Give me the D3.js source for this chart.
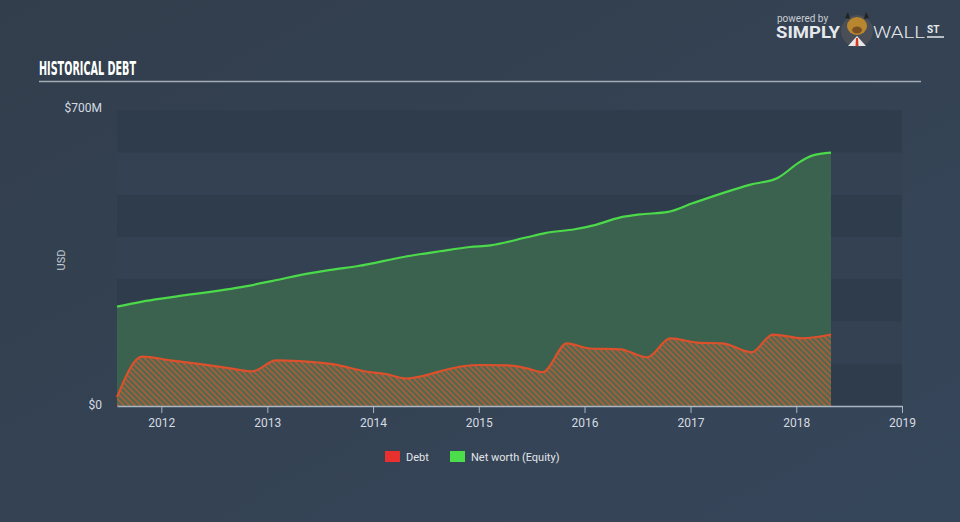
<!DOCTYPE html>
<html>
<head>
<meta charset="utf-8">
<script src="https://cdn.jsdelivr.net/npm/d3@7/dist/d3.min.js"></script>
<style>
  html, body { margin: 0; padding: 0; width: 960px; height: 522px; overflow: hidden; background: #344150; }
  svg { display: block; }
</style>
</head>
<body>
<svg id="chart" width="960" height="522"></svg>
<script>
// ---- Data (values in $M) ----
const equityDates = ["2011-08-01","2011-10-27","2012-02-01","2012-10-17","2013-01-20","2013-05-20","2013-08-07","2013-11-10","2014-04-20","2014-08-20","2014-12-01","2015-02-10","2015-06-16","2015-08-18","2015-11-28","2016-02-01","2016-05-04","2016-07-10","2016-10-15","2017-01-10","2017-07-24","2017-10-30","2018-01-15","2018-02-25","2018-05-01"];
const equityValues = [235, 247, 257, 283, 296, 313, 322, 331, 353, 366, 376, 380, 399, 409, 418, 427, 446, 453, 459, 480, 523, 540, 578, 592, 599];

const debtDates = ["2011-08-01","2011-10-27","2012-02-01","2012-05-15","2012-08-26","2012-11-10","2013-01-31","2013-04-23","2013-08-14","2013-12-12","2014-02-18","2014-04-26","2014-06-21","2014-08-20","2014-11-07","2015-01-05","2015-04-08","2015-06-16","2015-08-10","2015-11-01","2016-01-20","2016-05-04","2016-08-04","2016-10-23","2017-01-24","2017-04-22","2017-07-31","2017-10-12","2018-01-23","2018-05-01"];
const debtValues = [21, 117, 108, 99, 89, 82, 108, 106, 99, 81, 75, 65, 71, 82, 94, 97, 96, 89, 80, 148, 136, 134, 115, 160, 150, 148, 127, 169, 160, 169];

const xTickYears = [2012, 2013, 2014, 2015, 2016, 2017, 2018, 2019];
const yTickValues = [0, 700];
const legendItems = ["Debt", "Net worth (Equity)"];

// ---- Setup ----
const svg = d3.select("#chart");
const W = 960, H = 522;
const plot = { left: 117, right: 902, top: 110, bottom: 406 };
const parse = d3.timeParse("%Y-%m-%d");

const equity = equityDates.map((d, i) => ({ date: parse(d), value: equityValues[i] }));
const debt = debtDates.map((d, i) => ({ date: parse(d), value: debtValues[i] }));

const x = d3.scaleTime()
  .domain([parse("2011-08-01"), new Date(2019, 0, 1)])
  .range([plot.left, plot.right]);
const y = d3.scaleLinear().domain([0, 700]).range([plot.bottom, plot.top]);

const defs = svg.append("defs");
const bg = defs.append("linearGradient").attr("id", "bg").attr("x1", 0).attr("y1", 0).attr("x2", 1).attr("y2", 1);
bg.append("stop").attr("offset", "0%").attr("stop-color", "#323e4c");
bg.append("stop").attr("offset", "100%").attr("stop-color", "#36465a");

const pat = defs.append("pattern").attr("id", "hatch").attr("patternUnits", "userSpaceOnUse")
  .attr("width", 4).attr("height", 4).attr("patternTransform", "rotate(-45)");
pat.append("rect").attr("width", 4).attr("height", 4).attr("fill", "#4d6a50");
pat.append("rect").attr("width", 1.7).attr("height", 4).attr("fill", "#b05c38");

svg.append("rect").attr("width", W).attr("height", H).attr("fill", "url(#bg)");

// ---- Bands ----
const bandStep = 100;
const bands = d3.range(0, 700, bandStep);
svg.append("g").selectAll("rect").data(bands).join("rect")
  .attr("x", plot.left)
  .attr("width", plot.right - plot.left)
  .attr("y", d => y(d + bandStep))
  .attr("height", d => y(d) - y(d + bandStep))
  .attr("fill", (d, i) => (i % 2 === 0) ? "#2f3c4c" : "#334152");

// ---- Areas ----
const curve = d3.curveMonotoneX;
const areaGen = d3.area().x(d => x(d.date)).y0(y(0)).y1(d => y(d.value)).curve(curve);
const lineGen = d3.line().x(d => x(d.date)).y(d => y(d.value)).curve(curve);

svg.append("path").datum(equity).attr("d", areaGen).attr("fill", "#3a624f");
svg.append("path").datum(debt).attr("d", areaGen).attr("fill", "url(#hatch)");
svg.append("path").datum(equity).attr("d", lineGen).attr("fill", "none")
  .attr("stroke", "#4cd94a").attr("stroke-width", 2.2);
svg.append("path").datum(debt).attr("d", lineGen).attr("fill", "none")
  .attr("stroke", "#dd502c").attr("stroke-width", 2.2);

// ---- X axis ----
const xAxis = d3.axisBottom(x)
  .tickValues(xTickYears.map(yr => new Date(yr, 0, 1)))
  .tickFormat(d3.timeFormat("%Y"))
  .tickSize(7).tickSizeOuter(0);
const gx = svg.append("g").attr("transform", `translate(0,${plot.bottom})`).call(xAxis);
gx.select(".domain").attr("stroke", "#aab6c3").attr("stroke-width", 1.5);
gx.selectAll(".tick line").attr("stroke", "#aab6c3");
gx.selectAll(".tick text").attr("fill", "#d5dbe2").attr("font-size", 12)
  .attr("font-family", "Roboto, 'Open Sans', sans-serif").attr("dy", "0.9em");

// ---- Y labels ----
const yAxis = d3.axisLeft(y).tickValues(yTickValues)
  .tickFormat(d => d === 0 ? "$0" : "$" + d + "M").tickSize(0).tickPadding(15);
const gy = svg.append("g").attr("transform", `translate(${plot.left},0)`).call(yAxis);
gy.select(".domain").remove();
gy.selectAll(".tick text").attr("fill", "#d5dbe2").attr("font-size", 12)
  .attr("font-family", "Roboto, 'Open Sans', sans-serif");
gy.selectAll(".tick").filter(d => d === 700).select("text").attr("dy", "0.15em");
gy.selectAll(".tick").filter(d => d === 0).select("text").attr("dy", "0.2em");

svg.append("text").attr("transform", "translate(65,260) rotate(-90)")
  .attr("text-anchor", "middle").attr("fill", "#c3cad2").attr("font-size", 11)
  .attr("font-family", "Roboto, sans-serif").text("USD");

// ---- Title ----
svg.append("text").attr("x", 39).attr("y", 75).attr("fill", "#ffffff")
  .attr("font-size", 20).attr("font-weight", "bold")
  .attr("font-family", "'Liberation Sans Narrow', 'DejaVu Sans Condensed', sans-serif")
  .attr("textLength", 97).attr("lengthAdjust", "spacingAndGlyphs")
  .text("HISTORICAL DEBT");
svg.append("line").attr("x1", 39).attr("x2", 921).attr("y1", 81.5).attr("y2", 81.5)
  .attr("stroke", "#a3abb5").attr("stroke-width", 1.5);

// ---- Legend ----
const legendColors = ["#e8302e", "#4cde4a"];
const legendX = [385, 450];
const lg = svg.append("g").selectAll("g").data(legendItems).join("g")
  .attr("transform", (d, i) => `translate(${legendX[i]},451)`);
lg.append("rect").attr("width", 15).attr("height", 11).attr("fill", (d, i) => legendColors[i]);
lg.append("text").attr("x", 21).attr("y", 10).attr("fill", "#e2e6ea").attr("font-size", 11)
  .attr("font-family", "Roboto, sans-serif").text(d => d);

// ---- Logo ----
const logo = svg.append("g");
logo.append("text").attr("x", 777).attr("y", 22).attr("fill", "#c9ced4").attr("font-size", 10)
  .attr("font-family", "Roboto, sans-serif").text("powered by");
logo.append("text").attr("x", 776).attr("y", 38).attr("fill", "#e6e9ec").attr("font-size", 16.5)
  .attr("font-weight", "bold").attr("font-family", "Roboto, sans-serif")
  .attr("textLength", 64).attr("lengthAdjust", "spacingAndGlyphs").text("SIMPLY");
logo.append("circle").attr("cx", 857).attr("cy", 31).attr("r", 16).attr("fill", "#4a4f57");
logo.append("path").attr("d", "M845,18 L848,12 L850,19 Z M869,18 L866,12 L864,19 Z").attr("fill", "#222");
logo.append("ellipse").attr("cx", 857).attr("cy", 26).attr("rx", 10).attr("ry", 9).attr("fill", "#b8862f");
logo.append("ellipse").attr("cx", 857).attr("cy", 30).attr("rx", 5).attr("ry", 3.5).attr("fill", "#7a4f22");
logo.append("path").attr("d", "M848,46 L857,36 L866,46 Z").attr("fill", "#e8e8e8");
logo.append("path").attr("d", "M856,38 L858,38 L858.5,46 L855.5,46 Z").attr("fill", "#d33a22");
logo.append("text").attr("x", 873).attr("y", 38).attr("fill", "#e6e9ec").attr("font-size", 16.5)
  .attr("font-family", "Roboto, sans-serif").attr("font-weight", 300)
  .attr("textLength", 52).attr("lengthAdjust", "spacingAndGlyphs").text("WALL");
logo.append("text").attr("x", 927).attr("y", 33).attr("fill", "#e6e9ec").attr("font-size", 10)
  .attr("font-weight", "bold").attr("font-family", "Roboto, sans-serif").text("ST");
logo.append("line").attr("x1", 927).attr("x2", 944).attr("y1", 37).attr("y2", 37)
  .attr("stroke", "#e6e9ec").attr("stroke-width", 1.5);
</script>
</body>
</html>
